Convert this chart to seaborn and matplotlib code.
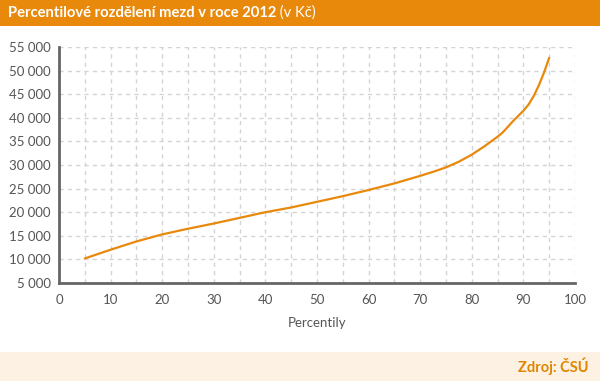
import matplotlib
matplotlib.use("Agg")
import matplotlib.pyplot as plt
import seaborn as sns
import pandas as pd
from matplotlib.ticker import FuncFormatter, MultipleLocator
from matplotlib.patches import Rectangle

percentiles = [5, 10, 15, 20, 25, 30, 35, 40, 45, 50, 55, 60, 65, 70, 72.5, 75, 77.5, 80, 82.5, 85,
               86, 87, 88, 89, 90, 91, 92, 93, 94, 95]
wages = [10200, 12050, 13800, 15300, 16500, 17600, 18800, 20000, 21000, 22200, 23400, 24700,
         26100, 27700, 28550, 29500, 30700, 32200, 34000, 36000,
         36900, 38100, 39300, 40400, 41500, 42800, 44600, 46900, 49600, 52700]
x_ticks = [0, 10, 20, 30, 40, 50, 60, 70, 80, 90, 100]
y_ticks = [5000, 10000, 15000, 20000, 25000, 30000, 35000, 40000, 45000, 50000, 55000]

title_main = "Percentilové rozdělení mezd v roce 2012"
title_unit = " (v Kč)"
x_label = "Percentily"
source = "Zdroj: ČSÚ"

ORANGE = "#E8890C"
GREY = "#555555"

sns.set_theme(style="white")
plt.rcParams["font.family"] = ["Lato", "DejaVu Sans"]

df = pd.DataFrame({"p": percentiles, "w": wages})

fig = plt.figure(figsize=(6, 3.81), dpi=100)
fig.patch.set_facecolor("white")

# title bar
fig.patches.append(Rectangle((0, 1 - 26 / 381), 1, 26 / 381, transform=fig.transFigure,
                             facecolor=ORANGE, edgecolor="none", zorder=0))
# footer band
fig.patches.append(Rectangle((0, 0), 1, 29 / 381, transform=fig.transFigure,
                             facecolor="#FCF1E3", edgecolor="none", zorder=0))

t1 = fig.text(8 / 600, 1 - 13 / 381, title_main, color="white", fontsize=10.6,
              fontweight="bold", va="center", ha="left")
fig.canvas.draw()
bb = t1.get_window_extent()
fig.text(bb.x1 / 600, 1 - 13 / 381, title_unit, color="white", fontsize=10.6,
         va="center", ha="left")

fig.text(588 / 600, 15 / 381, source, color="#E08600", fontsize=10.5,
         fontweight="bold", va="center", ha="right")

ax = fig.add_axes([59 / 600, 1 - 283 / 381, (575 - 59) / 600, (283 - 47) / 381])
sns.lineplot(data=df, x="p", y="w", ax=ax, color=ORANGE, linewidth=1.6)

ax.set_xlim(0, 100)
ax.set_ylim(5000, 55000)
ax.set_xticks(x_ticks)
ax.xaxis.set_minor_locator(MultipleLocator(5))
ax.set_yticks(y_ticks)
ax.yaxis.set_major_formatter(FuncFormatter(lambda v, p: f"{int(v):,}".replace(",", " ")))
ax.grid(True, which="both", axis="x", color="#D4D4D4", linestyle=(0, (3, 3)), linewidth=1.0)
ax.grid(True, which="major", axis="y", color="#D4D4D4", linestyle=(0, (3, 3)), linewidth=1.0)
ax.set_axisbelow(True)

for s in ["top", "right"]:
    ax.spines[s].set_visible(False)
for s in ["left", "bottom"]:
    ax.spines[s].set_color("#666666")
    ax.spines[s].set_linewidth(2)

ax.tick_params(axis="both", which="both", length=0, labelsize=9.5, labelcolor=GREY)
ax.tick_params(axis="x", pad=8)
ax.tick_params(axis="y", pad=6)
ax.set_xlabel(x_label, color=GREY, fontsize=9.5, labelpad=8)
ax.set_ylabel("")

fig.savefig("out.png", dpi=100)
